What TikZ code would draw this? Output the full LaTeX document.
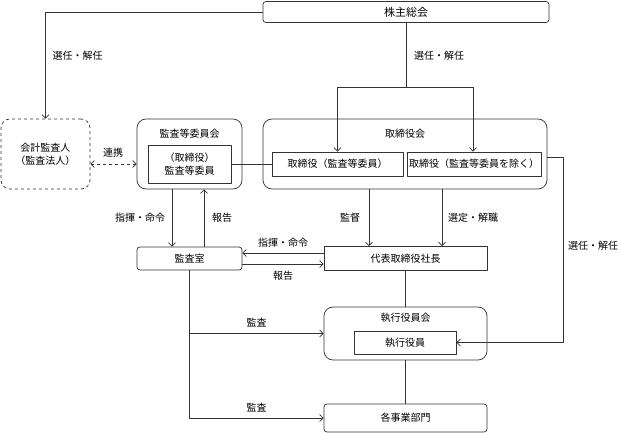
\documentclass[tikz,border=0pt]{standalone}
\usepackage{fontspec}
\setmainfont{Noto Sans CJK JP}
\usetikzlibrary{arrows.meta}
\definecolor{linegray}{HTML}{333333}
\tikzset{
  box/.style={draw=linegray, line width=0.7pt, inner sep=0pt, align=center, font=\fontsize{10}{13}\selectfont},
  rbox/.style={box, rounded corners=3pt},
  grp/.style={box, rounded corners=9pt},
  lbl/.style={inner sep=0pt, font=\fontsize{10}{12}\selectfont},
  con/.style={draw=linegray, line width=0.7pt},
}
\begin{document}
\begin{tikzpicture}[x=1pt, y=-1pt, >={Straight Barb[length=3.5pt,width=7pt]}, line join=round]
\useasboundingbox (0,0) rectangle (621,433);
% boxes
\node[rbox, minimum width=286pt, minimum height=21pt, font=\fontsize{11}{13}\selectfont] (kabu) at (406,12) {株主総会};
\node[grp, dashed, minimum width=89pt, minimum height=70pt] (kaikei) at (45.5,154) {会計監査人\\（監査法人）};
\node[grp, minimum width=105pt, minimum height=70pt] (iinkai) at (189.5,154) {};
\node[lbl] (iinkaiT) at (189.5,134) {監査等委員会};
\node[box, minimum width=83pt, minimum height=38pt] (iin) at (189.5,164) {（取締役）\\監査等委員};
\node[grp, minimum width=284pt, minimum height=70pt] (torikai) at (405,154) {};
\node[lbl] (torikaiT) at (405,134) {取締役会};
\node[box, minimum width=131pt, minimum height=24pt] (tori1) at (337.5,164) {取締役（監査等委員）};
\node[box, minimum width=134pt, minimum height=24pt] (tori2) at (474,164) {取締役（監査等委員を除く）};
\node[rbox, minimum width=105pt, minimum height=23pt] (shitsu) at (189.5,258.5) {監査室};
\node[box, minimum width=163pt, minimum height=24pt] (daihyo) at (405.5,258.5) {代表取締役社長};
\node[grp, minimum width=163pt, minimum height=53pt] (shikko) at (405.5,333.5) {};
\node[lbl] (shikkoT) at (405.5,318) {執行役員会};
\node[box, minimum width=102pt, minimum height=23pt] (yakuin) at (405,342.5) {執行役員};
\node[rbox, minimum width=163pt, minimum height=28pt] (jigyo) at (405.5,418) {各事業部門};
% junctions
\coordinate (fork) at (406,87);
\coordinate (rt) at (563,157);
% connectors
\draw[con,->] (kabu.west) -| (kaikei.north);
\draw[con] (kabu.south) -- (fork);
\draw[con,->] (fork) -| (tori1.north);
\draw[con,->] (fork) -| ([xshift=-1pt]tori2.north);
\draw[con,dashed,<->] (kaikei.east |- iin.west) -- (iinkai.west |- iin.west);
\draw[con] (iin.east) -- (tori1.west);
\draw[con,->] ([xshift=-17.5pt]iinkai.south) -- ([xshift=-17.5pt]shitsu.north);
\draw[con,->] ([xshift=14.5pt]shitsu.north) -- ([xshift=14.5pt]iinkai.south);
\draw[con,->] ([yshift=5.5pt]daihyo.west) -- ([yshift=5.5pt]shitsu.east);
\draw[con,->] ([yshift=-5.5pt]shitsu.east) -- ([yshift=-5.5pt]daihyo.west);
\draw[con,->] ([xshift=-36pt]torikai.south) -- ([xshift=-36.5pt]daihyo.north);
\draw[con,->] ([xshift=37pt]torikai.south) -- ([xshift=36.5pt]daihyo.north);
\draw[con,->] ([yshift=-3pt]torikai.east) -- (rt) |- (yakuin.east);
\draw[con] (daihyo.south) -- (shikko.north);
\draw[con] (shikko.south) -- (jigyo.north);
\draw[con,->] (shitsu.south) |- (jigyo.west);
\draw[con,->] (shitsu.south |- shikko.west) -- (shikko.west);
% labels
\foreach \x/\y/\t [count=\i] in {77.5/56/選任・解任, 439/56/選任・解任, 113/153/連携,
  140/218/指揮・命令, 222/218/報告, 283/243/指揮・命令, 283/276/報告, 350/218/監督,
  473/218/選定・解職, 593/246/選任・解任, 256.5/323/監査, 256.5/408/監査}
  \node[lbl] (lab\i) at (\x,\y) {\t};
\end{tikzpicture}
\end{document}
